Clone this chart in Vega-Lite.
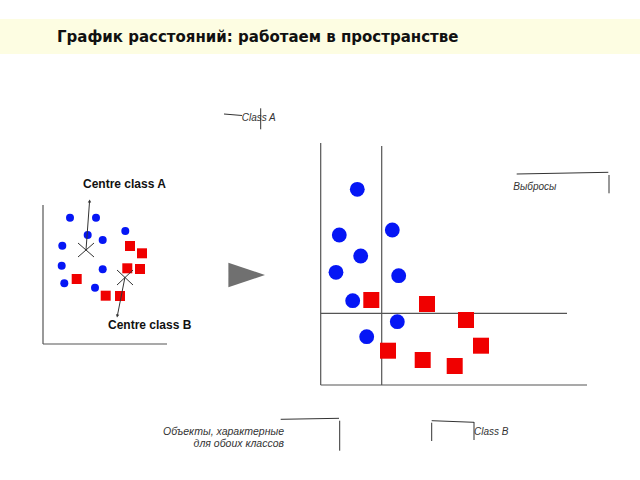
{
  "$schema": "https://vega.github.io/schema/vega-lite/v6.json",
  "width": 640,
  "height": 480,
  "padding": 0,
  "autosize": {"type": "fit", "contains": "padding"},
  "background": "white",
  "config": {"view": {"stroke": null}},
  "datasets": {
    "band": [{"x": 0, "x2": 640, "y": 19, "y2": 54}],
    "pts": [
      {"panel": "L", "cls": "A", "x": 70, "y": 217.7},
      {"panel": "L", "cls": "A", "x": 96, "y": 217.7},
      {"panel": "L", "cls": "A", "x": 87.7, "y": 235},
      {"panel": "L", "cls": "A", "x": 125.3, "y": 231},
      {"panel": "L", "cls": "A", "x": 102.7, "y": 240},
      {"panel": "L", "cls": "A", "x": 62.3, "y": 245.7},
      {"panel": "L", "cls": "A", "x": 61.7, "y": 265.7},
      {"panel": "L", "cls": "A", "x": 102.7, "y": 269.3},
      {"panel": "L", "cls": "A", "x": 64.3, "y": 283.3},
      {"panel": "L", "cls": "A", "x": 95, "y": 287.7},
      {"panel": "L", "cls": "B", "x": 130, "y": 246},
      {"panel": "L", "cls": "B", "x": 142, "y": 253.3},
      {"panel": "L", "cls": "B", "x": 127.3, "y": 268.3},
      {"panel": "L", "cls": "B", "x": 140, "y": 269},
      {"panel": "L", "cls": "B", "x": 76.7, "y": 279},
      {"panel": "L", "cls": "B", "x": 105.7, "y": 295.7},
      {"panel": "L", "cls": "B", "x": 120, "y": 296},
      {"panel": "R", "cls": "A", "x": 357.3, "y": 189.3},
      {"panel": "R", "cls": "A", "x": 392.3, "y": 230},
      {"panel": "R", "cls": "A", "x": 339.3, "y": 235},
      {"panel": "R", "cls": "A", "x": 360.7, "y": 256},
      {"panel": "R", "cls": "A", "x": 336, "y": 272.3},
      {"panel": "R", "cls": "A", "x": 398.7, "y": 275.7},
      {"panel": "R", "cls": "A", "x": 352.7, "y": 300.7},
      {"panel": "R", "cls": "A", "x": 397.3, "y": 321.7},
      {"panel": "R", "cls": "A", "x": 366.7, "y": 336.7},
      {"panel": "R", "cls": "B", "x": 371.3, "y": 300},
      {"panel": "R", "cls": "B", "x": 427, "y": 304},
      {"panel": "R", "cls": "B", "x": 466, "y": 320},
      {"panel": "R", "cls": "B", "x": 481, "y": 345.7},
      {"panel": "R", "cls": "B", "x": 388, "y": 350.7},
      {"panel": "R", "cls": "B", "x": 422.7, "y": 360},
      {"panel": "R", "cls": "B", "x": 454.7, "y": 366}
    ],
    "axes": [
      {"x": 43, "y": 205, "x2": 43, "y2": 344},
      {"x": 43, "y": 344, "x2": 167, "y2": 344},
      {"x": 320.7, "y": 143, "x2": 320.7, "y2": 385},
      {"x": 320.7, "y": 385, "x2": 587, "y2": 385},
      {"x": 381.7, "y": 146, "x2": 381.7, "y2": 385},
      {"x": 320.7, "y": 313.3, "x2": 567, "y2": 313.3}
    ],
    "strokes": [
      {"x": 78, "y": 243, "x2": 94, "y2": 257},
      {"x": 78, "y": 257, "x2": 94, "y2": 243},
      {"x": 117, "y": 270, "x2": 133, "y2": 285},
      {"x": 117, "y": 285, "x2": 133, "y2": 270},
      {"x": 86, "y": 250, "x2": 89.5, "y2": 202},
      {"x": 125, "y": 277, "x2": 117.5, "y2": 315},
      {"x": 224, "y": 114, "x2": 242, "y2": 115.5},
      {"x": 260.7, "y": 108.3, "x2": 260.7, "y2": 129.3},
      {"x": 516.7, "y": 174, "x2": 608.3, "y2": 172.3},
      {"x": 609, "y": 175, "x2": 609, "y2": 193.3},
      {"x": 280.7, "y": 419.3, "x2": 339, "y2": 418.3},
      {"x": 339.7, "y": 420.7, "x2": 339.7, "y2": 450.7},
      {"x": 431.7, "y": 420.7, "x2": 474, "y2": 422.3},
      {"x": 474, "y": 422, "x2": 474, "y2": 440},
      {"x": 431.7, "y": 422.7, "x2": 431.7, "y2": 441}
    ],
    "heads": [
      {"dir": "up", "x": 89.6, "y": 201},
      {"dir": "down", "x": 117.3, "y": 316}
    ],
    "play": [{"x": 246.7, "y": 275}],
    "labels": [
      {"kind": "title", "text": "График расстояний: работаем в пространстве", "x": 57, "y": 36.5},
      {"kind": "bold", "text": "Centre class A", "x": 83, "y": 184},
      {"kind": "bold", "text": "Centre class B", "x": 108, "y": 325},
      {"kind": "note", "text": "Class A", "x": 241.7, "y": 118.3},
      {"kind": "note", "text": "Выбросы", "x": 513.3, "y": 187},
      {"kind": "note", "text": "Class B", "x": 474, "y": 432.3},
      {"kind": "noteR", "text": "Объекты, характерные", "x": 284, "y": 432},
      {"kind": "noteR", "text": "для обоих классов", "x": 284, "y": 444}
    ]
  },
  "encoding": {
    "x": {"field": "x", "type": "quantitative", "scale": {"domain": [0, 640], "nice": false, "zero": false}, "axis": null},
    "y": {"field": "y", "type": "quantitative", "scale": {"domain": [0, 480], "nice": false, "zero": false, "reverse": true}, "axis": null}
  },
  "layer": [
    {
      "data": {"name": "band"},
      "mark": {"type": "rect", "color": "#fdfde2"},
      "encoding": {"x2": {"field": "x2"}, "y2": {"field": "y2"}}
    },
    {
      "data": {"name": "axes"},
      "mark": {"type": "rule", "color": "#555555", "strokeWidth": 1.2},
      "encoding": {"x2": {"field": "x2"}, "y2": {"field": "y2"}}
    },
    {
      "data": {"name": "pts"},
      "transform": [{"filter": "datum.panel == 'L' && datum.cls == 'A'"}],
      "mark": {"type": "point", "shape": "circle", "filled": true, "opacity": 1, "color": "#0516f5", "size": 64}
    },
    {
      "data": {"name": "pts"},
      "transform": [{"filter": "datum.panel == 'L' && datum.cls == 'B'"}],
      "mark": {"type": "point", "shape": "square", "filled": true, "opacity": 1, "color": "#f00000", "size": 100}
    },
    {
      "data": {"name": "pts"},
      "transform": [{"filter": "datum.panel == 'R' && datum.cls == 'A'"}],
      "mark": {"type": "point", "shape": "circle", "filled": true, "opacity": 1, "color": "#0516f5", "size": 220}
    },
    {
      "data": {"name": "pts"},
      "transform": [{"filter": "datum.panel == 'R' && datum.cls == 'B'"}],
      "mark": {"type": "point", "shape": "square", "filled": true, "opacity": 1, "color": "#f00000", "size": 256}
    },
    {
      "data": {"name": "strokes"},
      "mark": {"type": "rule", "color": "#333333", "strokeWidth": 1},
      "encoding": {"x2": {"field": "x2"}, "y2": {"field": "y2"}}
    },
    {
      "data": {"name": "heads"},
      "transform": [{"filter": "datum.dir == 'up'"}],
      "mark": {"type": "point", "shape": "triangle-up", "filled": true, "opacity": 1, "color": "#333333", "size": 12, "angle": 4}
    },
    {
      "data": {"name": "heads"},
      "transform": [{"filter": "datum.dir == 'down'"}],
      "mark": {"type": "point", "shape": "triangle-down", "filled": true, "opacity": 1, "color": "#333333", "size": 12, "angle": 11}
    },
    {
      "data": {"name": "play"},
      "mark": {"type": "point", "shape": "M-1,-0.67L1,0L-1,0.67Z", "filled": true, "opacity": 1, "color": "#707070", "size": 1340}
    },
    {
      "data": {"name": "labels"},
      "transform": [{"filter": "datum.kind == 'title'"}],
      "mark": {"type": "text", "align": "left", "baseline": "middle", "font": "DejaVu Sans", "fontWeight": "bold", "fontSize": 15, "color": "#111111"},
      "encoding": {"text": {"field": "text"}}
    },
    {
      "data": {"name": "labels"},
      "transform": [{"filter": "datum.kind == 'bold'"}],
      "mark": {"type": "text", "align": "left", "baseline": "middle", "font": "Liberation Sans", "fontWeight": "bold", "fontSize": 12, "color": "#111111"},
      "encoding": {"text": {"field": "text"}}
    },
    {
      "data": {"name": "labels"},
      "transform": [{"filter": "datum.kind == 'note'"}],
      "mark": {"type": "text", "align": "left", "baseline": "middle", "font": "Liberation Sans", "fontStyle": "italic", "fontSize": 10, "color": "#333333"},
      "encoding": {"text": {"field": "text"}}
    },
    {
      "data": {"name": "labels"},
      "transform": [{"filter": "datum.kind == 'noteR'"}],
      "mark": {"type": "text", "align": "right", "baseline": "middle", "font": "Liberation Sans", "fontStyle": "italic", "fontSize": 10.5, "color": "#333333"},
      "encoding": {"text": {"field": "text"}}
    }
  ]
}
